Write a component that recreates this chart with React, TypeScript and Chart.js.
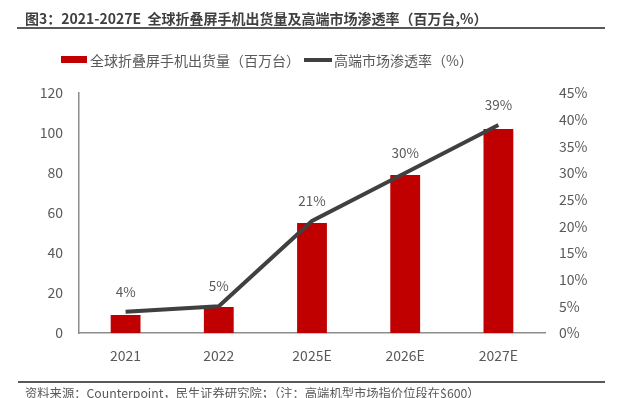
import React, { useEffect, useRef } from "react";
import { Chart, registerables } from "chart.js";

Chart.register(...registerables);

const categories = ["2021", "2022", "2025E", "2026E", "2027E"];
const shipments = [9, 13, 55, 79, 102];
const penetration = [4, 5, 21, 30, 39];
const penetrationLabels = ["4%", "5%", "21%", "30%", "39%"];

const FONT = '"Noto Sans CJK SC", "Noto Sans", sans-serif';

const labelPlugin = {
  id: "lineLabels",
  afterDatasetsDraw(chart: any) {
    const meta = chart.getDatasetMeta(0);
    const ctx = chart.ctx;
    ctx.save();
    ctx.font = `13.5px ${FONT}`;
    ctx.fillStyle = "#595959";
    ctx.textAlign = "center";
    ctx.textBaseline = "middle";
    meta.data.forEach((pt: any, i: number) => {
      ctx.fillText(penetrationLabels[i], pt.x, pt.y - 20);
    });
    ctx.restore();
  },
};

export default function App() {
  const ref = useRef<HTMLCanvasElement>(null);
  useEffect(() => {
    const chart = new Chart(ref.current!, {
      type: "bar",
      data: {
        labels: categories,
        datasets: [
          {
            type: "line",
            label: "高端市场渗透率（%）",
            data: penetration,
            yAxisID: "y1",
            borderColor: "#404040",
            borderWidth: 4,
            pointRadius: 0,
            tension: 0,
            order: 0,
          } as any,
          {
            type: "bar",
            label: "全球折叠屏手机出货量（百万台）",
            data: shipments,
            yAxisID: "y",
            backgroundColor: "#C00000",
            categoryPercentage: 1,
            barPercentage: 0.32,
            order: 1,
          },
        ],
      },
      options: {
        responsive: false,
        animation: false,
        layout: { padding: { top: 93, left: 0, right: 0, bottom: 0 } },
        plugins: {
          legend: { display: false },
          tooltip: { enabled: false },
          title: { display: false },
        },
        scales: {
          x: {
            grid: { display: false, drawTicks: false },
            border: { display: true, color: "#8c8c8c", width: 1.5 },
            ticks: { color: "#595959", font: { family: FONT, size: 14 }, padding: 14 },
            afterFit(scale: any) {
              scale.height = 65;
            },
          },
          y: {
            position: "left",
            min: 0,
            max: 120,
            grid: { display: false, drawTicks: false },
            border: { display: true, color: "#8c8c8c", width: 1.5 },
            ticks: { stepSize: 20, color: "#595959", font: { family: FONT, size: 14 }, padding: 16 },
            afterFit(scale: any) {
              scale.width = 79;
            },
          },
          y1: {
            position: "right",
            min: 0,
            max: 45,
            grid: { display: false, drawTicks: false },
            border: { display: false },
            ticks: {
              stepSize: 5,
              color: "#595959",
              font: { family: FONT, size: 14 },
              padding: 14,
              callback: (v: any) => `${v}%`,
            },
            afterFit(scale: any) {
              scale.width = 80;
            },
          },
        },
      },
      plugins: [labelPlugin],
    });
    return () => chart.destroy();
  }, []);

  return (
    <div style={{ position: "fixed", left: 0, top: 0, width: 625, height: 398, background: "#fff", overflow: "hidden", fontFamily: FONT }}>
      <canvas ref={ref} width={625} height={398} style={{ position: "absolute", left: 0, top: 0 }} />
      <div style={{ position: "absolute", left: 25, top: 8, fontSize: 14, fontWeight: 700, color: "#404040", whiteSpace: "nowrap", lineHeight: "20px" }}>
        图3：2021-2027E&nbsp;&nbsp;全球折叠屏手机出货量及高端市场渗透率（百万台,%）
      </div>
      <div style={{ position: "absolute", left: 17, top: 27, width: 588, height: 2, background: "#595959" }} />
      <div style={{ position: "absolute", left: 61, top: 56, width: 26, height: 7, background: "#C00000" }} />
      <div style={{ position: "absolute", left: 90, top: 50, fontSize: 14, color: "#595959", whiteSpace: "nowrap", lineHeight: "20px" }}>
        全球折叠屏手机出货量（百万台）
      </div>
      <div style={{ position: "absolute", left: 304, top: 58, width: 28, height: 4, background: "#404040" }} />
      <div style={{ position: "absolute", left: 334, top: 50, fontSize: 14, color: "#595959", whiteSpace: "nowrap", lineHeight: "20px" }}>
        高端市场渗透率（%）
      </div>
      <div style={{ position: "absolute", left: 18, top: 381, width: 587, height: 2, background: "#595959" }} />
      <div style={{ position: "absolute", left: 25, top: 385, fontSize: 12.3, color: "#595959", whiteSpace: "nowrap", lineHeight: "17px" }}>
        资料来源：Counterpoint，民生证券研究院；（注：高端机型市场指价位段在$600）
      </div>
    </div>
  );
}
